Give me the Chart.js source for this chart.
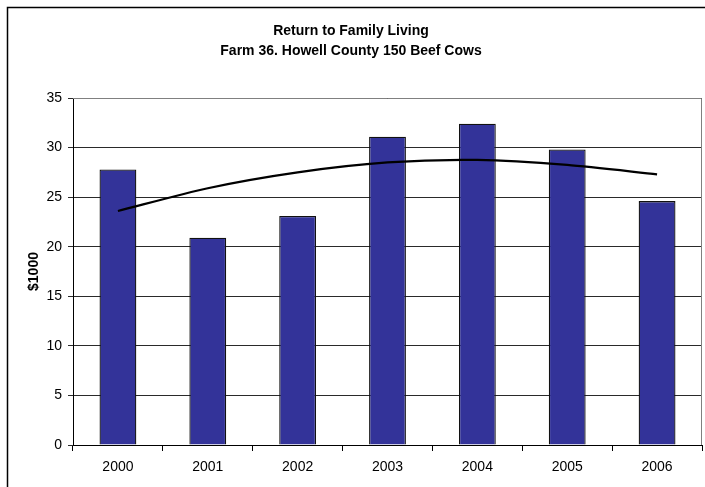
<!DOCTYPE html>
<html>
<head>
<meta charset="utf-8">
<script src="https://cdn.jsdelivr.net/npm/chart.js@4"></script>
<style>
  html, body { margin: 0; padding: 0; background: #fff; }
  #wrap { width: 705px; height: 487px; position: relative; }
</style>
</head>
<body>
<div id="wrap"><canvas id="familyChart"></canvas></div>
<script>
// --------------------
// Chart data
// --------------------
const years = ["2000", "2001", "2002", "2003", "2004", "2005", "2006"];
const returnValues = [27.8, 20.9, 23.1, 31.1, 32.4, 29.8, 24.6];
const trendValues = [23.6, 25.9, 27.5, 28.5, 28.75, 28.25, 27.3];
const yTicks = [0, 5, 10, 15, 20, 25, 30, 35];

const titleLines = ["Return to Family Living", "Farm 36. Howell County 150 Beef Cows"];
const yAxisTitle = "$1000";

const fontFamily = "'Liberation Sans', Arial, sans-serif";

// frame round the chart + gray top/right edge of plot area
const framePlugin = {
    id: 'frame',
    beforeDraw(chart) {
        const ctx = chart.ctx;
        ctx.save();
        ctx.fillStyle = '#fff';
        ctx.fillRect(0, 0, chart.width, chart.height);
        ctx.strokeStyle = '#000';
        ctx.lineWidth = 1.5;
        ctx.strokeRect(7.5, 7.5, chart.width + 20, chart.height + 20);
        ctx.restore();
    },
    afterDatasetsDraw(chart) {
        const { ctx, chartArea } = chart;
        ctx.save();
        ctx.strokeStyle = '#808080';
        ctx.lineWidth = 1;
        ctx.beginPath();
        ctx.moveTo(chartArea.left, chartArea.top + 0.5);
        ctx.lineTo(chartArea.right - 0.5, chartArea.top + 0.5);
        ctx.lineTo(chartArea.right - 0.5, chartArea.bottom);
        ctx.stroke();
        ctx.restore();
    }
};

const ctx = document.getElementById('familyChart').getContext('2d');
new Chart(ctx, {
    data: {
        labels: years,
        datasets: [
            {
                type: 'line',
                label: 'Trend',
                data: trendValues,
                borderColor: '#000',
                borderWidth: 2.2,
                pointRadius: 0,
                tension: 0.25,
                order: 0
            },
            {
                type: 'bar',
                label: 'Return to Family Living',
                data: returnValues,
                backgroundColor: '#333399',
                borderColor: '#111',
                borderWidth: 1.3,
                barPercentage: 0.41,
                categoryPercentage: 1.0,
                order: 1
            }
        ]
    },
    plugins: [framePlugin],
    options: {
        responsive: true,
        maintainAspectRatio: false,
        animation: false,
        layout: { padding: { left: 0, right: 3, top: 0, bottom: 0 } },
        plugins: {
            legend: { display: false },
            tooltip: { enabled: false },
            title: {
                display: true,
                text: titleLines,
                color: '#000',
                font: { family: fontFamily, size: 14, weight: 'bold', lineHeight: '20px' },
                padding: { top: 21, bottom: 37 }
            }
        },
        scales: {
            x: {
                offset: true,
                grid: {
                    offset: true,
                    drawOnChartArea: false,
                    drawTicks: true,
                    tickLength: 6,
                    color: '#000'
                },
                border: { color: '#000', width: 1 },
                ticks: {
                    color: '#000',
                    font: { family: fontFamily, size: 14 },
                    padding: 8,
                    maxRotation: 0
                },
                afterFit(scale) { scale.height = 42; }
            },
            y: {
                min: 0,
                max: 35,
                afterBuildTicks(scale) { scale.ticks = yTicks.map(v => ({ value: v })); },
                grid: {
                    color: '#2a2a2a',
                    tickLength: 5,
                    drawTicks: true
                },
                border: { color: '#000', width: 1 },
                ticks: {
                    color: '#000',
                    font: { family: fontFamily, size: 14 },
                    padding: 6
                },
                title: {
                    display: true,
                    text: yAxisTitle,
                    color: '#000',
                    font: { family: fontFamily, size: 14, weight: 'bold' },
                    padding: { top: 26, bottom: 0 }
                },
                afterFit(scale) { scale.width = 73; }
            }
        }
    }
});
</script>
</body>
</html>
